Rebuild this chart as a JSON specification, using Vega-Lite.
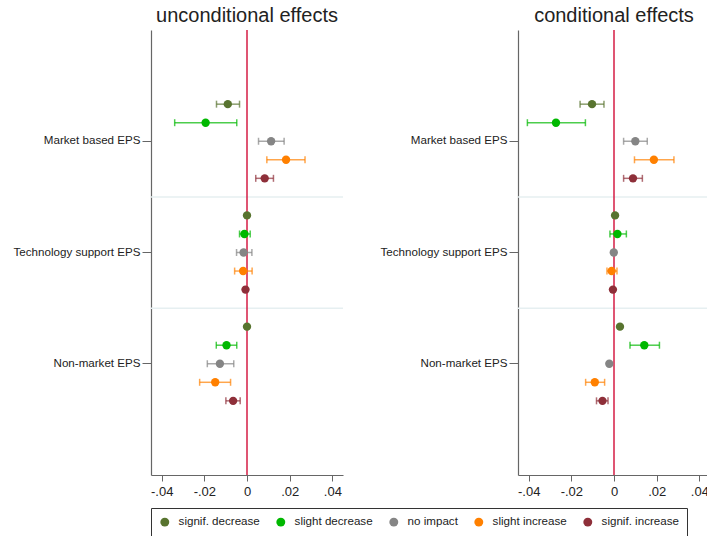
{
  "$schema": "https://vega.github.io/schema/vega-lite/v6.json",
  "padding": {"left": 13, "top": 6, "right": 0, "bottom": 0},
  "background": "white",
  "spacing": 36,
  "config": {
    "font": "Liberation Sans",
    "view": {"stroke": null},
    "title": {"fontSize": 20, "fontWeight": "normal", "color": "#222", "offset": 3, "anchor": "middle"},
    "axis": {"domainColor": "#666", "tickColor": "#666", "labelColor": "#222", "grid": false, "title": null}
  },
  "datasets": {
    "effects": [
      {"panel": "u", "policy": "Market based EPS", "effect": "signif. decrease", "est": -0.0090, "lo": -0.0143, "hi": -0.0035},
      {"panel": "u", "policy": "Market based EPS", "effect": "slight decrease", "est": -0.0194, "lo": -0.0339, "hi": -0.0048},
      {"panel": "u", "policy": "Market based EPS", "effect": "no impact", "est": 0.0113, "lo": 0.0054, "hi": 0.0174},
      {"panel": "u", "policy": "Market based EPS", "effect": "slight increase", "est": 0.0183, "lo": 0.0093, "hi": 0.0272},
      {"panel": "u", "policy": "Market based EPS", "effect": "signif. increase", "est": 0.0083, "lo": 0.0041, "hi": 0.0124},
      {"panel": "u", "policy": "Technology support EPS", "effect": "signif. decrease", "est": 0.0000, "lo": -0.0004, "hi": 0.0004},
      {"panel": "u", "policy": "Technology support EPS", "effect": "slight decrease", "est": -0.0012, "lo": -0.0035, "hi": 0.0015},
      {"panel": "u", "policy": "Technology support EPS", "effect": "no impact", "est": -0.0016, "lo": -0.0049, "hi": 0.0023},
      {"panel": "u", "policy": "Technology support EPS", "effect": "slight increase", "est": -0.0018, "lo": -0.0058, "hi": 0.0024},
      {"panel": "u", "policy": "Technology support EPS", "effect": "signif. increase", "est": -0.0007, "lo": -0.0015, "hi": 0.0001},
      {"panel": "u", "policy": "Non-market EPS", "effect": "signif. decrease", "est": 0.0000, "lo": -0.0004, "hi": 0.0004},
      {"panel": "u", "policy": "Non-market EPS", "effect": "slight decrease", "est": -0.0096, "lo": -0.0144, "hi": -0.0048},
      {"panel": "u", "policy": "Non-market EPS", "effect": "no impact", "est": -0.0127, "lo": -0.0186, "hi": -0.0062},
      {"panel": "u", "policy": "Non-market EPS", "effect": "slight increase", "est": -0.0149, "lo": -0.0222, "hi": -0.0077},
      {"panel": "u", "policy": "Non-market EPS", "effect": "signif. increase", "est": -0.0065, "lo": -0.0099, "hi": -0.0032},
      {"panel": "c", "policy": "Market based EPS", "effect": "signif. decrease", "est": -0.0103, "lo": -0.0159, "hi": -0.0047},
      {"panel": "c", "policy": "Market based EPS", "effect": "slight decrease", "est": -0.0272, "lo": -0.0406, "hi": -0.0134},
      {"panel": "c", "policy": "Market based EPS", "effect": "no impact", "est": 0.0100, "lo": 0.0045, "hi": 0.0156},
      {"panel": "c", "policy": "Market based EPS", "effect": "slight increase", "est": 0.0187, "lo": 0.0096, "hi": 0.0281},
      {"panel": "c", "policy": "Market based EPS", "effect": "signif. increase", "est": 0.0089, "lo": 0.0045, "hi": 0.0133},
      {"panel": "c", "policy": "Technology support EPS", "effect": "signif. decrease", "est": 0.0005, "lo": 0.0002, "hi": 0.0008},
      {"panel": "c", "policy": "Technology support EPS", "effect": "slight decrease", "est": 0.0016, "lo": -0.0019, "hi": 0.0058},
      {"panel": "c", "policy": "Technology support EPS", "effect": "no impact", "est": -0.0001, "lo": -0.0004, "hi": 0.0002},
      {"panel": "c", "policy": "Technology support EPS", "effect": "slight increase", "est": -0.0011, "lo": -0.0033, "hi": 0.0014},
      {"panel": "c", "policy": "Technology support EPS", "effect": "signif. increase", "est": -0.0005, "lo": -0.0008, "hi": -0.0002},
      {"panel": "c", "policy": "Non-market EPS", "effect": "signif. decrease", "est": 0.0028, "lo": 0.0025, "hi": 0.0031},
      {"panel": "c", "policy": "Non-market EPS", "effect": "slight decrease", "est": 0.0142, "lo": 0.0075, "hi": 0.0213},
      {"panel": "c", "policy": "Non-market EPS", "effect": "no impact", "est": -0.0022, "lo": -0.0025, "hi": -0.0019},
      {"panel": "c", "policy": "Non-market EPS", "effect": "slight increase", "est": -0.0090, "lo": -0.0133, "hi": -0.0044},
      {"panel": "c", "policy": "Non-market EPS", "effect": "signif. increase", "est": -0.0054, "lo": -0.0082, "hi": -0.0028}
    ],
    "separators": [
      {"policy": "Technology support EPS"},
      {"policy": "Non-market EPS"}
    ],
    "zero": [{"est": 0}]
  },
  "hconcat": [
    {
      "width": 192,
      "height": 445,
      "title": "unconditional effects",
      "layer": [
        {
          "data": {"name": "separators"},
          "mark": {"type": "rule", "color": "#e6eff1", "strokeWidth": 1.5},
          "encoding": {
            "y": {"field": "policy", "type": "nominal", "bandPosition": 0,
              "scale": {"domain": ["Market based EPS", "Technology support EPS", "Non-market EPS"], "paddingInner": 0, "paddingOuter": 0.5},
              "axis": {"tickSize": 9, "labelPadding": 2, "labelFontSize": 11.6, "domainWidth": 1.2}}
          }
        },
        {
          "data": {"name": "zero"},
          "mark": {"type": "rule", "color": "#d41c45", "strokeWidth": 1.5},
          "encoding": {
            "x": {"field": "est", "type": "quantitative",
              "scale": {"domain": [-0.045, 0.045], "nice": false, "zero": false},
              "axis": {"values": [-0.04, -0.02, 0, 0.02, 0.04], "labelExpr": "datum.value == 0 ? '0' : (datum.value < 0 ? '-' : '') + replace(format(abs(datum.value), '.2f'), '0.', '.')", "tickSize": 6, "labelPadding": 4, "labelFontSize": 13, "domainWidth": 1.2}}
          }
        },
        {
          "data": {"name": "effects"},
          "transform": [{"filter": "datum.panel == 'u'"}],
          "layer": [
            {"mark": {"type": "rule", "strokeWidth": 1.5, "opacity": 0.7},
             "encoding": {"x": {"field": "lo", "type": "quantitative"}, "x2": {"field": "hi"}}},
            {"mark": {"type": "tick", "orient": "vertical", "size": 7, "thickness": 1.5, "opacity": 0.7},
             "encoding": {"x": {"field": "lo", "type": "quantitative"}}},
            {"mark": {"type": "tick", "orient": "vertical", "size": 7, "thickness": 1.5, "opacity": 0.7},
             "encoding": {"x": {"field": "hi", "type": "quantitative"}}},
            {"mark": {"type": "point", "filled": true, "shape": "circle", "size": 70, "opacity": 1},
             "encoding": {"x": {"field": "est", "type": "quantitative"}}}
          ],
          "encoding": {
            "y": {"field": "policy", "type": "nominal"},
            "yOffset": {"field": "effect", "type": "nominal",
              "scale": {"type": "point", "padding": 1, "domain": ["signif. decrease", "slight decrease", "no impact", "slight increase", "signif. increase"]}},
            "color": {"field": "effect", "type": "nominal",
              "scale": {"domain": ["signif. decrease", "slight decrease", "no impact", "slight increase", "signif. increase"],
                        "range": ["#58742f", "#00b800", "#858585", "#ff8000", "#8e2f39"]},
              "legend": {"orient": "bottom", "direction": "horizontal", "title": null, "strokeColor": "#333", "fillColor": "white", "padding": 8, "labelFontSize": 11.6, "labelColor": "#222", "symbolSize": 80, "symbolType": "circle", "symbolOpacity": 1, "columnPadding": 15, "labelOffset": 8, "offset": 10, "symbolStrokeWidth": 0,
                "encode": {"symbols": {"update": {"opacity": {"value": 1}, "fillOpacity": {"value": 1}}}}}}
          }
        }
      ]
    },
    {
      "width": 192,
      "height": 445,
      "title": "conditional effects",
      "layer": [
        {
          "data": {"name": "separators"},
          "mark": {"type": "rule", "color": "#e6eff1", "strokeWidth": 1.5},
          "encoding": {
            "y": {"field": "policy", "type": "nominal", "bandPosition": 0,
              "scale": {"domain": ["Market based EPS", "Technology support EPS", "Non-market EPS"], "paddingInner": 0, "paddingOuter": 0.5},
              "axis": {"tickSize": 9, "labelPadding": 2, "labelFontSize": 11.6, "domainWidth": 1.2}}
          }
        },
        {
          "data": {"name": "zero"},
          "mark": {"type": "rule", "color": "#d41c45", "strokeWidth": 1.5},
          "encoding": {
            "x": {"field": "est", "type": "quantitative",
              "scale": {"domain": [-0.045, 0.045], "nice": false, "zero": false},
              "axis": {"values": [-0.04, -0.02, 0, 0.02, 0.04], "labelExpr": "datum.value == 0 ? '0' : (datum.value < 0 ? '-' : '') + replace(format(abs(datum.value), '.2f'), '0.', '.')", "tickSize": 6, "labelPadding": 4, "labelFontSize": 13, "domainWidth": 1.2}}
          }
        },
        {
          "data": {"name": "effects"},
          "transform": [{"filter": "datum.panel == 'c'"}],
          "layer": [
            {"mark": {"type": "rule", "strokeWidth": 1.5, "opacity": 0.7},
             "encoding": {"x": {"field": "lo", "type": "quantitative"}, "x2": {"field": "hi"}}},
            {"mark": {"type": "tick", "orient": "vertical", "size": 7, "thickness": 1.5, "opacity": 0.7},
             "encoding": {"x": {"field": "lo", "type": "quantitative"}}},
            {"mark": {"type": "tick", "orient": "vertical", "size": 7, "thickness": 1.5, "opacity": 0.7},
             "encoding": {"x": {"field": "hi", "type": "quantitative"}}},
            {"mark": {"type": "point", "filled": true, "shape": "circle", "size": 70, "opacity": 1},
             "encoding": {"x": {"field": "est", "type": "quantitative"}}}
          ],
          "encoding": {
            "y": {"field": "policy", "type": "nominal"},
            "yOffset": {"field": "effect", "type": "nominal",
              "scale": {"type": "point", "padding": 1, "domain": ["signif. decrease", "slight decrease", "no impact", "slight increase", "signif. increase"]}},
            "color": {"field": "effect", "type": "nominal"}
          }
        }
      ]
    }
  ]
}
